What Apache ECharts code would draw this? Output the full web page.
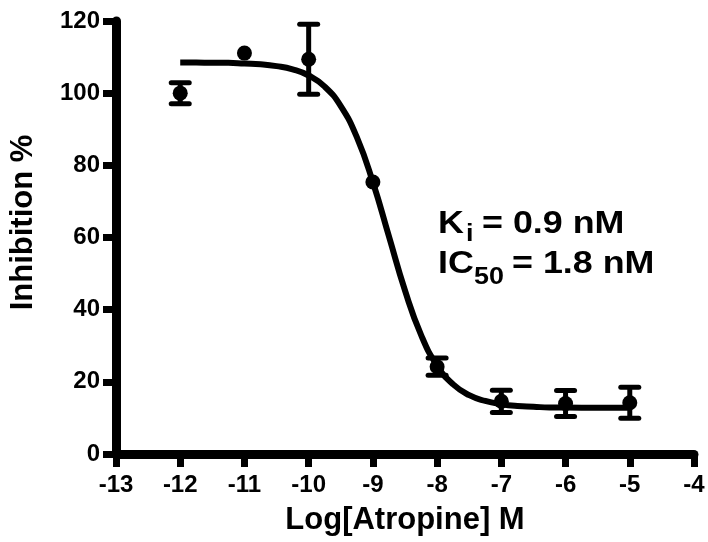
<!DOCTYPE html>
<html>
<head>
<meta charset="utf-8">
<script src="https://cdn.jsdelivr.net/npm/echarts@6/dist/echarts.min.js"></script>
<style>
html,body{margin:0;padding:0;background:#fff;}
#chart{width:708px;height:542px;}
</style>
</head>
<body>
<div id="chart"></div>
<script>
// Measured data points (log concentration, mean inhibition %, error)
const logConc = [-12, -11, -10, -9, -8, -7, -6, -5];
const inhibition = [100.0, 111.1, 109.4, 75.4, 24.2, 14.6, 14.0, 14.2];
const errorVals = [2.9, 0, 9.7, 0, 2.4, 3.1, 3.6, 4.3];

// Fitted curve
const curveX = [-12, -11.75, -11.5, -11.25, -11, -10.75, -10.5, -10.25, -10, -9.75, -9.5, -9.25, -9, -8.75, -8.5, -8.25, -8, -7.75, -7.5, -7.25, -7, -6.75, -6.5, -6.25, -6, -5.5, -5];
const curveY = [108.5, 108.5, 108.4, 108.4, 108.2, 108.0, 107.5, 106.6, 104.9, 101.8, 96.4, 87.8, 75.3, 60.3, 45.3, 33.0, 24.5, 19.3, 16.3, 14.7, 13.8, 13.3, 13.1, 12.9, 12.9, 12.8, 12.8];

// Axis ticks
const xTicks = [-13, -12, -11, -10, -9, -8, -7, -6, -5, -4];
const yTicks = [0, 20, 40, 60, 80, 100, 120];

const FONT = "'Liberation Sans', Arial, Helvetica, sans-serif";

const chart = echarts.init(document.getElementById('chart'), null, {renderer: 'canvas'});

const pointData = logConc.map((x, i) => [x, inhibition[i]]);
const errData = logConc.map((x, i) => [x, inhibition[i] - errorVals[i], inhibition[i] + errorVals[i], errorVals[i]]);
const curveData = curveX.map((x, i) => [x, curveY[i]]);

function mkText(x, y, str, size) {
  return {
    type: 'text', x: x, y: y, scaleX: 1.12, scaleY: 1,
    style: {text: str, fill: '#000', font: 'bold ' + size + 'px ' + FONT, align: 'left', verticalAlign: 'middle'}
  };
}

chart.setOption({
  animation: false,
  backgroundColor: '#fff',
  grid: {left: 115, right: 14, top: 21, bottom: 88, containLabel: false},
  xAxis: {
    type: 'value',
    min: xTicks[0], max: xTicks[xTicks.length - 1], interval: 1,
    name: 'Log[Atropine] M',
    nameLocation: 'middle',
    nameGap: 51,
    nameTextStyle: {fontFamily: FONT, fontWeight: 'bold', fontSize: 31, color: '#000'},
    axisLine: {show: true, onZero: false, lineStyle: {color: '#000', width: 9}},
    axisTick: {show: true, length: 13, lineStyle: {color: '#000', width: 7}},
    axisLabel: {fontFamily: FONT, fontWeight: 'bold', fontSize: 24, color: '#000', margin: 19},
    splitLine: {show: false}
  },
  yAxis: {
    type: 'value',
    min: yTicks[0], max: yTicks[yTicks.length - 1], interval: 20,
    name: 'Inhibition %',
    nameLocation: 'middle',
    nameGap: 77,
    nameRotate: 90,
    nameTextStyle: {fontFamily: FONT, fontWeight: 'bold', fontSize: 31, color: '#000', padding: [0, 0, 0, 30]},
    axisLine: {show: true, onZero: false, lineStyle: {color: '#000', width: 9}},
    axisTick: {show: true, length: 13, lineStyle: {color: '#000', width: 7}},
    axisLabel: {fontFamily: FONT, fontWeight: 'bold', fontSize: 24, color: '#000', margin: 16},
    splitLine: {show: false}
  },
  series: [
    {
      type: 'line',
      data: curveData,
      showSymbol: false,
      symbol: 'none',
      smooth: 0.5,
      lineStyle: {color: '#000', width: 6},
      z: 2
    },
    {
      type: 'custom',
      data: errData,
      renderItem: function (params, api) {
        if (api.value(3) <= 0) return null;
        const x = api.value(0);
        const top = api.coord([x, api.value(2)]);
        const bot = api.coord([x, api.value(1)]);
        const hw = 9;
        const st = {stroke: '#000', lineWidth: 5};
        return {
          type: 'group',
          children: [
            {type: 'line', shape: {x1: top[0], y1: top[1], x2: bot[0], y2: bot[1]}, style: st},
            {type: 'line', shape: {x1: top[0] - hw, y1: top[1], x2: top[0] + hw, y2: top[1]}, style: Object.assign({lineCap: 'round'}, st)},
            {type: 'line', shape: {x1: bot[0] - hw, y1: bot[1], x2: bot[0] + hw, y2: bot[1]}, style: Object.assign({lineCap: 'round'}, st)}
          ]
        };
      },
      z: 3
    },
    {
      type: 'scatter',
      data: pointData,
      symbol: 'circle',
      symbolSize: 15,
      itemStyle: {color: '#000', opacity: 1},
      z: 4
    }
  ],
  graphic: [
    mkText(438, 224, 'K', 32),
    mkText(466, 234, 'i', 24),
    mkText(482, 224, '= 0.9 nM', 32),
    mkText(438, 264, 'IC', 32),
    mkText(474, 277, '50', 24),
    mkText(512, 264, '= 1.8 nM', 32)
  ]
});
</script>
</body>
</html>
